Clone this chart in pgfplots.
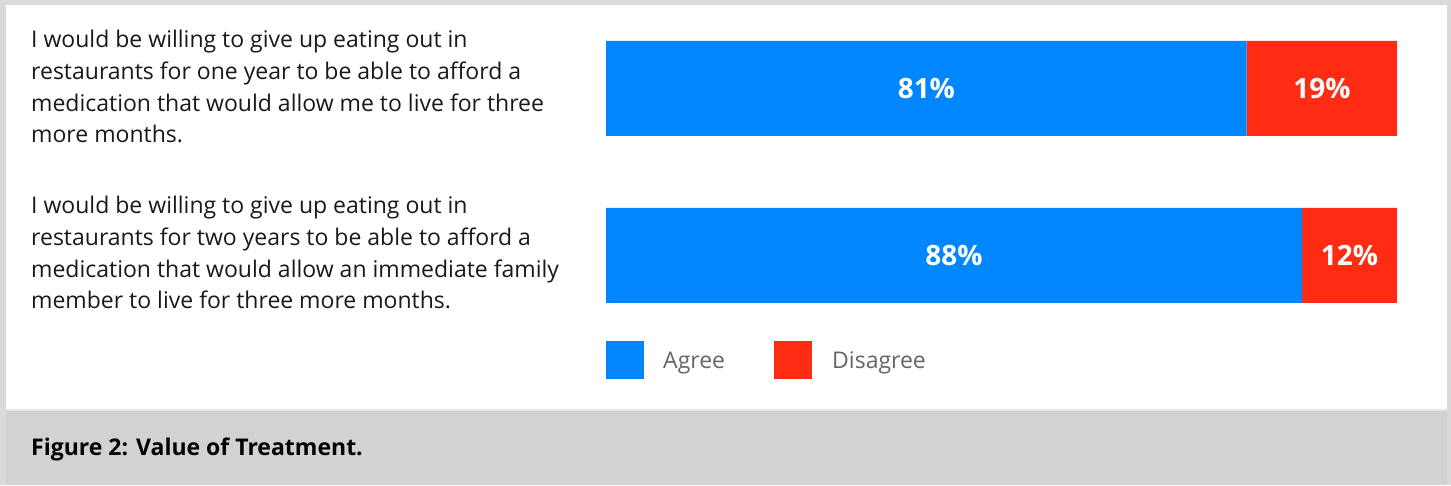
\documentclass[border=0pt]{standalone}
\usepackage{fontspec}
\setmainfont{Open Sans}
\usepackage{pgfplots}
\pgfplotsset{compat=1.18}
\definecolor{agree}{HTML}{0086FF}
\definecolor{disagree}{HTML}{FF2B12}
\definecolor{frame}{HTML}{DADADA}
\definecolor{footer}{HTML}{D1D2D4}
\definecolor{legtext}{HTML}{666666}
\tikzset{pct/.style={text=white, font=\fontsize{28}{32}\selectfont\bfseries}}
\begin{document}
\begin{tikzpicture}[x=1pt,y=1pt]
\useasboundingbox (0,0) rectangle (1451,485);
\fill[frame] (0,0) rectangle (1451,485);
\fill[white] (6,75) rectangle (1447,480);
\fill[footer] (6,0) rectangle (1447,74);
\draw[frame!70!white, line width=2pt] (6,75) -- (1447,75);
\node[anchor=base west, align=left, inner sep=0pt, font=\fontsize{23}{31.7}\selectfont, text=black!90]
  at (31,342) {I would be willing to give up eating out in\\restaurants for one year to be able to afford a\\medication that would allow me to live for three\\more months.};
\node[anchor=base west, align=left, inner sep=0pt, font=\fontsize{23}{31.7}\selectfont, text=black!90]
  at (31,176) {I would be willing to give up eating out in\\restaurants for two years to be able to afford a\\medication that would allow an immediate family\\member to live for three more months.};
\node[anchor=base west, inner sep=0pt, font=\fontsize{23}{26}\selectfont\bfseries, text=black]
  at (31,30) {Figure 2: Value of Treatment.};
\begin{axis}[
  at={(606pt,146pt)}, anchor=south west,
  width=791pt, height=334pt, scale only axis,
  xmin=0, xmax=100, ymin=-0.5, ymax=1.5,
  hide axis,
  xbar stacked, bar width=95pt,
]
\addplot[fill=agree, draw=none] coordinates {(81,1) (88,0)};
\addplot[fill=disagree, draw=none] coordinates {(19,1) (12,0)};
\coordinate (p1) at (axis cs:40.5,1);
\coordinate (p2) at (axis cs:90.5,1);
\coordinate (p3) at (axis cs:44,0);
\coordinate (p4) at (axis cs:94,0);
\end{axis}
\node[pct] at (p1) {81\%};
\node[pct] at (p2) {19\%};
\node[pct] at (p3) {88\%};
\node[pct] at (p4) {12\%};
\fill[agree] (606,106) rectangle (644,144);
\node[anchor=base west, inner sep=0pt, text=legtext, font=\fontsize{23}{26}\selectfont] at (663,117) {Agree};
\fill[disagree] (774,106) rectangle (812,144);
\node[anchor=base west, inner sep=0pt, text=legtext, font=\fontsize{23}{26}\selectfont] at (832,117) {Disagree};
\end{tikzpicture}
\end{document}
